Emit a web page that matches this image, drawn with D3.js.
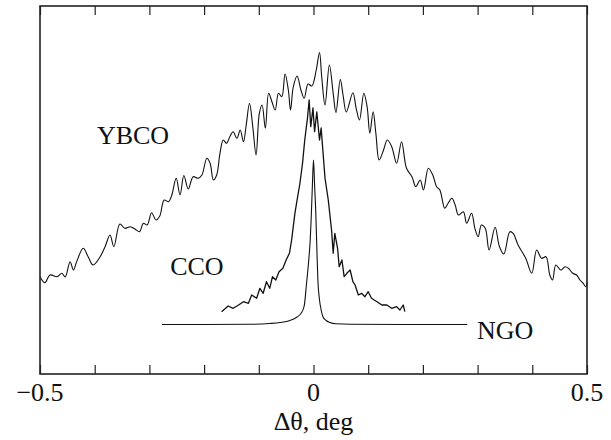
<!DOCTYPE html>
<html>
<head>
<meta charset="utf-8">
<script src="https://cdn.jsdelivr.net/npm/d3@7"></script>
<style>
	body { margin: 0; background: #fff; }
	svg { display: block; }
	text { font-family: "Liberation Serif", "Times New Roman", serif; fill: #111; }
</style>
</head>
<body>
<svg width="611" height="440"></svg>
<script>
// Rocking curves, x = delta theta (deg), y = intensity (arb. units)
let ybco = [
	[-0.500, 97.3], [-0.491, 91.3], [-0.482, 99], [-0.469, 97.3], [-0.460, 100.7], [-0.454, 97],
	[-0.445, 112.3], [-0.439, 104], [-0.433, 112.3], [-0.421, 125.7], [-0.412, 117.3], [-0.403, 109],
	[-0.390, 117.3], [-0.381, 127.3], [-0.372, 139], [-0.365, 127.3], [-0.354, 150], [-0.345, 145.7],
	[-0.335, 147.3], [-0.326, 144.7], [-0.318, 142.3], [-0.311, 150.7], [-0.304, 149], [-0.296, 161.3],
	[-0.288, 154], [-0.281, 158], [-0.273, 174], [-0.265, 172.3], [-0.259, 179], [-0.251, 195.7],
	[-0.244, 179], [-0.237, 198.5], [-0.229, 185], [-0.220, 197.3], [-0.211, 195.7], [-0.204, 199],
	[-0.195, 215.7], [-0.189, 210.7], [-0.183, 194], [-0.177, 199], [-0.171, 220.7], [-0.165, 234],
	[-0.159, 230.7], [-0.153, 237.3], [-0.147, 242.3], [-0.140, 235.7], [-0.134, 244], [-0.128, 232.3],
	[-0.123, 249], [-0.117, 270.7], [-0.111, 247.3], [-0.105, 219], [-0.099, 260.7], [-0.094, 269],
	[-0.088, 245.7], [-0.082, 280.7], [-0.076, 272.3], [-0.070, 264], [-0.064, 280.7], [-0.058, 277.3],
	[-0.052, 300], [-0.046, 284], [-0.042, 264], [-0.037, 287], [-0.030, 298], [-0.023, 284],
	[-0.017, 275.7], [-0.010, 290], [-0.003, 288], [0.005, 304], [0.011, 321.5], [0.015, 297.3],
	[0.021, 269], [0.029, 309], [0.036, 280.7], [0.041, 261.5], [0.049, 294.5], [0.054, 279],
	[0.060, 262], [0.072, 281.3], [0.078, 265.7], [0.084, 254], [0.092, 280.7], [0.098, 267.3],
	[0.103, 240.7], [0.109, 262.3], [0.114, 240.7], [0.120, 214], [0.128, 224], [0.135, 234],
	[0.143, 227.3], [0.152, 210.7], [0.161, 232.3], [0.170, 205.7], [0.180, 197.3], [0.187, 187.3],
	[0.195, 194], [0.201, 184], [0.210, 205.7], [0.218, 199], [0.225, 187.3], [0.231, 184],
	[0.240, 165.7], [0.246, 170.7], [0.253, 175.7], [0.259, 169], [0.265, 159], [0.274, 162.3],
	[0.280, 150.7], [0.289, 160.7], [0.295, 145.7], [0.301, 137.3], [0.307, 149], [0.314, 145.7],
	[0.321, 124], [0.332, 146.7], [0.340, 127.3], [0.348, 120], [0.359, 142.3], [0.365, 140.7],
	[0.374, 129], [0.388, 115.7], [0.399, 100.7], [0.408, 124], [0.417, 115.7], [0.425, 117.3],
	[0.432, 99], [0.437, 94], [0.443, 109], [0.452, 104], [0.460, 107.3], [0.466, 105.7],
	[0.474, 100.7], [0.481, 99], [0.487, 94], [0.493, 90.7], [0.498, 87.3], [0.500, 92.3]
];

let cco = [
	[-0.168, 62.3], [-0.156, 68], [-0.147, 65.7], [-0.137, 69], [-0.128, 72.3], [-0.119, 70.7],
	[-0.113, 79], [-0.104, 75.7], [-0.098, 85.7], [-0.092, 80.7], [-0.086, 92.3], [-0.080, 85.7],
	[-0.075, 97.3], [-0.069, 94], [-0.063, 102.3], [-0.056, 105.7], [-0.050, 114], [-0.044, 120.7],
	[-0.040, 134], [-0.037, 147.3], [-0.034, 160.7], [-0.030, 174], [-0.025, 190], [-0.020, 211],
	[-0.016, 234], [-0.011, 256], [-0.008, 274], [-0.005, 247.3], [-0.001, 266], [0.002, 242.3],
	[0.006, 262], [0.011, 234], [0.014, 246], [0.018, 217.3], [0.021, 196], [0.027, 174],
	[0.033, 144], [0.036, 120.7], [0.039, 140.7], [0.044, 125.7], [0.047, 107.3], [0.052, 114],
	[0.056, 97.3], [0.061, 100.7], [0.067, 104], [0.072, 92.3], [0.076, 89], [0.082, 79],
	[0.088, 80.7], [0.094, 77.3], [0.100, 82.3], [0.106, 75.7], [0.116, 72.3], [0.125, 69],
	[0.134, 69], [0.143, 65.7], [0.152, 67.3], [0.158, 64], [0.164, 69], [0.167, 62.3]
];

let ngo = [
	[-0.277, 49.5], [-0.116, 49.7], [-0.080, 50.5], [-0.061, 51.5], [-0.043, 53.5], [-0.030, 57],
	[-0.023, 60.5], [-0.017, 68], [-0.013, 89], [-0.009, 112], [-0.006, 134], [-0.004, 159],
	[-0.002, 189], [0.000, 214], [0.002, 189], [0.004, 164], [0.006, 128], [0.008, 94],
	[0.011, 74], [0.014, 64], [0.017, 57.5], [0.023, 53.5], [0.030, 51.5], [0.041, 50.2],
	[0.067, 49.7], [0.281, 49.5]
];

let xTicks = [-0.5, -0.4, -0.3, -0.2, -0.1, 0, 0.1, 0.2, 0.3, 0.4, 0.5];
let xTickLabels = ['\u22120.5', '0', '0.5']; // only these three are labelled
let xLabelled = [-0.5, 0, 0.5];

// Curve names and where they sit (x in deg, y in intensity units)
let names = ['YBCO', 'CCO', 'NGO'];
let namePos = [[-0.396, 230], [-0.262, 99], [0.299, 35]];

let svg = d3.select('svg');

let plotL = 40, plotR = 587, plotT = 6, plotB = 374; // plot frame

let x = d3.scaleLinear().domain([-0.5, 0.5]).range([plotL, plotR]);
let y = d3.scaleLinear().domain([0, 368]).range([plotB, plotT]);

// Curves: YBCO oscillations are rounded, CCO is jagged, NGO is a smooth peak
let curves = [d3.curveCatmullRom, d3.curveLinear, d3.curveMonotoneX];

[ybco, cco, ngo].forEach((series, i) =>
{
	let line = d3.line()
		.x(d => x(d[0]))
		.y(d => y(d[1]))
		.curve(curves[i]);

	svg.append('path')
		.datum(series)
		.attr('fill', 'none')
		.attr('stroke', '#111')
		.attr('stroke-width', i == 1 ? 1.3 : 1.1)
		.attr('stroke-linejoin', 'round')
		.attr('d', line);
});

// Frame
svg.append('rect')
	.attr('x', plotL)
	.attr('y', plotT)
	.attr('width', plotR - plotL)
	.attr('height', plotB - plotT)
	.attr('fill', 'none')
	.attr('stroke', '#222')
	.attr('stroke-width', 1.6);

// Inward ticks on bottom and top
let bottomAxis = d3.axisBottom(x).tickValues(xTicks).tickSize(-9).tickFormat('');
let topAxis = d3.axisTop(x).tickValues(xTicks).tickSize(-9).tickFormat('');

svg.append('g').attr('transform', 'translate(0,' + plotB + ')').call(bottomAxis);
svg.append('g').attr('transform', 'translate(0,' + plotT + ')').call(topAxis);
svg.selectAll('.domain').remove();
svg.selectAll('.tick line').attr('stroke', '#222').attr('stroke-width', 1.2);

// Tick labels
svg.selectAll('text.xlab')
	.data(xLabelled)
	.enter()
	.append('text')
	.attr('class', 'xlab')
	.attr('x', d => x(d))
	.attr('y', 401)
	.attr('text-anchor', 'middle')
	.attr('font-size', 26)
	.text((d, i) => xTickLabels[i]);

// Axis title
svg.append('text')
	.attr('x', x(0))
	.attr('y', 430)
	.attr('text-anchor', 'middle')
	.attr('font-size', 26)
	.text('\u0394\u03b8, deg');

// Curve names
svg.selectAll('text.name')
	.data(names)
	.enter()
	.append('text')
	.attr('class', 'name')
	.attr('x', (d, i) => x(namePos[i][0]))
	.attr('y', (d, i) => y(namePos[i][1]))
	.attr('font-size', 26)
	.text(d => d);
</script>
</body>
</html>
